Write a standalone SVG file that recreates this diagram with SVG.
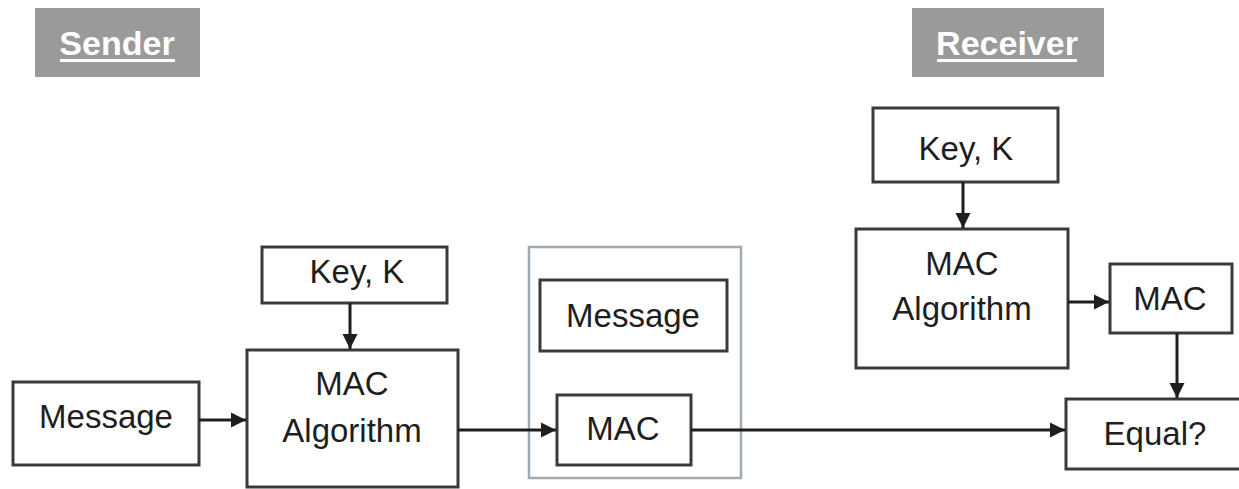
<svg xmlns="http://www.w3.org/2000/svg" width="1239" height="489" viewBox="0 0 1239 489">
<defs>
<style>
.box{fill:#fff;stroke:#3a3a3a;stroke-width:3}
.hdr{fill:#9a9a9a}
.ht{font-family:"Liberation Sans",Arial,sans-serif;font-size:34px;font-weight:bold;fill:#fff;text-anchor:middle}
.t{font-family:"Liberation Sans",Arial,sans-serif;font-size:33px;fill:#1e1e1e;text-anchor:middle}
.c{stroke:#1e1e1e;stroke-width:3;fill:none}
</style>
<marker id="ah" viewBox="0 0 10 10" refX="10" refY="5" markerWidth="5" markerHeight="5.5" orient="auto" markerUnits="strokeWidth">
<path d="M0,0 L10,5 L0,10 z" fill="#1e1e1e"/>
</marker>
</defs>
<rect width="1239" height="489" fill="#fff"/>
<g id="sender-label">
<rect class="hdr" x="35" y="8" width="165" height="69"/>
<text class="ht" x="117" y="55">Sender</text>
<rect x="60" y="59" width="115" height="3" fill="#fff"/>
</g>
<g id="receiver-label">
<rect class="hdr" x="912" y="8" width="192" height="69"/>
<text class="ht" x="1007" y="55">Receiver</text>
<rect x="937" y="59" width="140" height="3" fill="#fff"/>
</g>
<g id="container">
<rect x="529" y="247" width="212" height="231" fill="none" stroke="#9fadb3" stroke-width="2.5"/>
</g>
<g id="message-left">
<rect class="box" x="13" y="382" width="186" height="83"/>
<text class="t" x="106" y="428">Message</text>
</g>
<g id="key-sender">
<rect class="box" x="262" y="247" width="185" height="56"/>
<text class="t" x="357" y="283">Key, K</text>
</g>
<g id="mac-alg-sender">
<rect class="box" x="247" y="350" width="211" height="137"/>
<text class="t" x="352" y="395">MAC</text>
<text class="t" x="352" y="442">Algorithm</text>
</g>
<g id="message-inner">
<rect class="box" x="540" y="280" width="187" height="71"/>
<text class="t" x="633" y="327">Message</text>
</g>
<g id="mac-inner">
<rect class="box" x="557" y="395" width="134" height="70"/>
<text class="t" x="623" y="440">MAC</text>
</g>
<g id="key-receiver">
<rect class="box" x="873" y="108" width="185" height="74"/>
<text class="t" x="966" y="160">Key, K</text>
</g>
<g id="mac-alg-receiver">
<rect class="box" x="856" y="229" width="212" height="139"/>
<text class="t" x="962" y="275">MAC</text>
<text class="t" x="962" y="320">Algorithm</text>
</g>
<g id="mac-receiver">
<rect class="box" x="1110" y="264" width="122" height="69"/>
<text class="t" x="1170" y="310">MAC</text>
</g>
<g id="equal">
<rect class="box" x="1066" y="399" width="175" height="70"/>
<text class="t" x="1155" y="445">Equal?</text>
</g>
<g id="connectors">
<line class="c" x1="199" y1="420" x2="246" y2="420" marker-end="url(#ah)"/>
<line class="c" x1="350" y1="303" x2="350" y2="349" marker-end="url(#ah)"/>
<line class="c" x1="458" y1="430" x2="556" y2="430" marker-end="url(#ah)"/>
<line class="c" x1="691" y1="430" x2="1065" y2="430" marker-end="url(#ah)"/>
<line class="c" x1="963" y1="182" x2="963" y2="228" marker-end="url(#ah)"/>
<line class="c" x1="1068" y1="302" x2="1109" y2="302" marker-end="url(#ah)"/>
<line class="c" x1="1177" y1="333" x2="1177" y2="398" marker-end="url(#ah)"/>
</g>
</svg>
